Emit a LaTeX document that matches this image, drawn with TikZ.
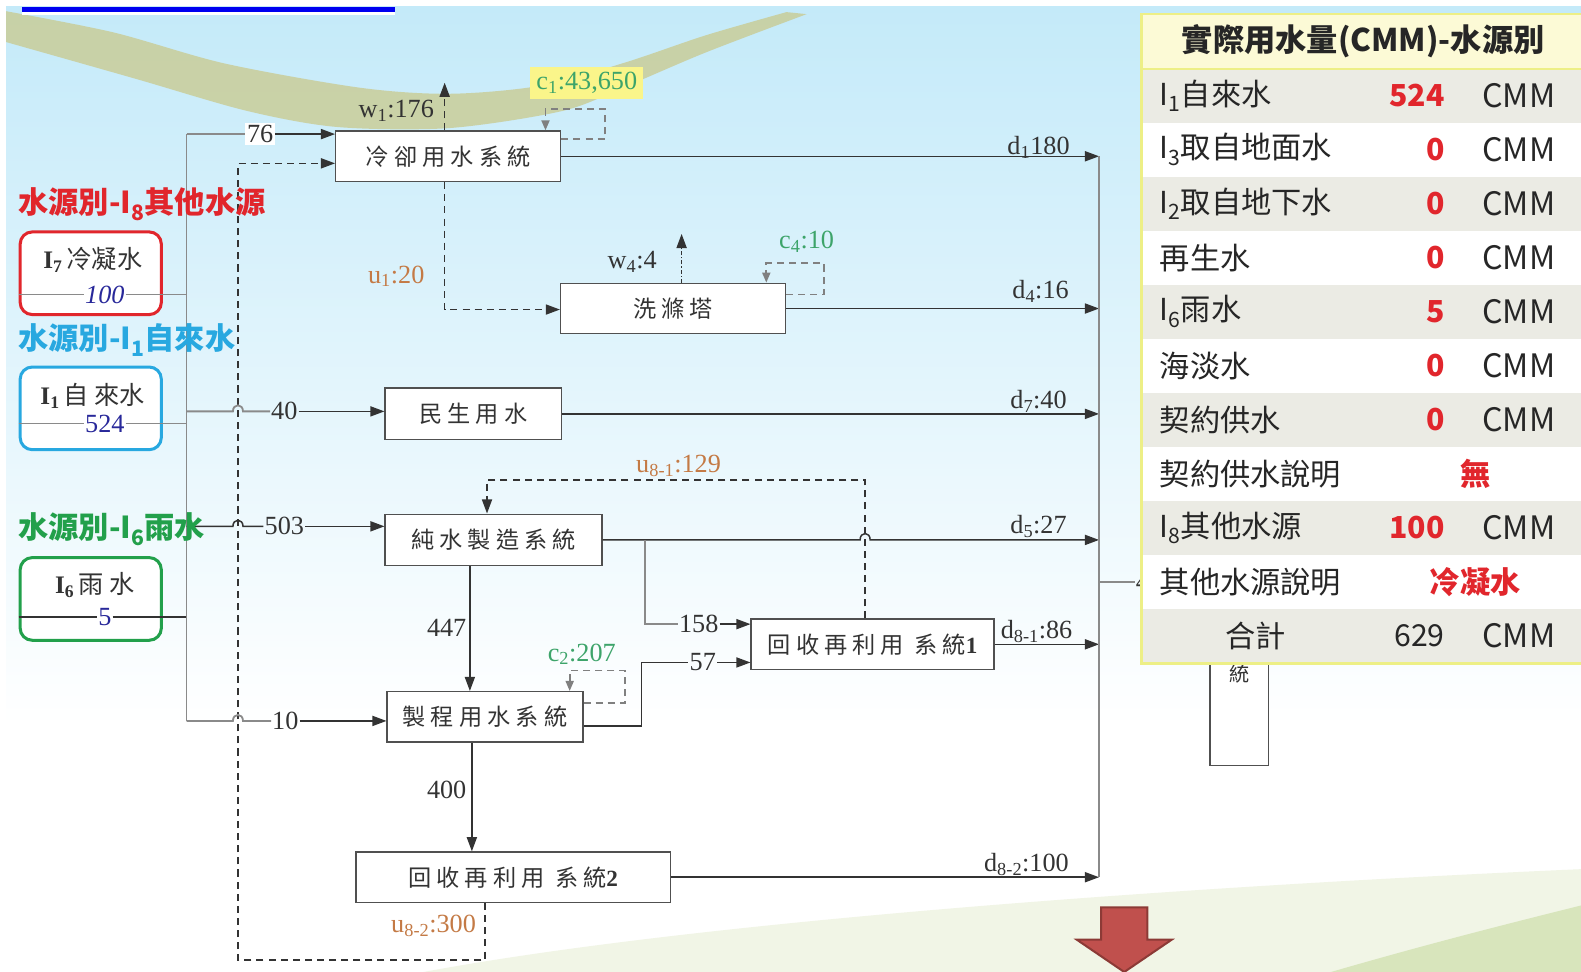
\documentclass[tikz,border=0pt]{standalone}
\usepackage{fontspec}
\setmainfont{Liberation Serif}
\newfontfamily\cjk{Noto Sans CJK TC}
\newfontfamily\cjksp[LetterSpace=22]{Noto Sans CJK TC}
\usetikzlibrary{arrows.meta,calc}
\definecolor{lg}{HTML}{333333}
\definecolor{rg}{HTML}{8A8A8A}
\definecolor{boxc}{HTML}{505050}
\definecolor{redc}{HTML}{E1262C}
\definecolor{bluec}{HTML}{28A8E0}
\definecolor{greenT}{HTML}{22A04B}
\definecolor{numblue}{HTML}{28289A}
\definecolor{orangec}{HTML}{C47A45}
\definecolor{greenc}{HTML}{3DA46A}
\definecolor{hl}{HTML}{FAF58A}
\definecolor{sky}{HTML}{C4EAF9}
\definecolor{swoosh}{HTML}{C9C98C}
\definecolor{pgA}{HTML}{F1F5E6}
\definecolor{pgB}{HTML}{D8E5BC}
\definecolor{hdr}{HTML}{FCFAD6}
\definecolor{rowg}{HTML}{EBEBE4}
\definecolor{ybord}{HTML}{EDEF86}
\definecolor{arrred}{HTML}{C0504D}
\definecolor{arrdark}{HTML}{8C3A36}
\definecolor{blueline}{HTML}{0000F0}
\newcommand{\fs}[1]{\fontsize{#1}{#1}\selectfont}
\newcommand{\sbs}[1]{\textsubscript{#1}}
\tikzset{
  proc/.style={draw=boxc, line width=1.4pt, fill=white, minimum height=50pt, inner sep=0pt, font=\cjksp\fs{23}, text=lg},
  src/.style={line width=3pt, rounded corners=12pt, fill=white, minimum width=140pt, minimum height=82pt},
  flow/.style={draw=lg, line width=1.5pt},
  flowg/.style={draw=rg, line width=1.8pt},
  arr/.style={-{Triangle[length=14pt,width=10pt]}},
  sarr/.style={-{Triangle[length=10pt,width=8pt]}},
  dsh/.style={dash pattern=on 7pt off 5pt},
  lbl/.style={font=\fs{26}, inner sep=1pt, text=lg},
  ttl/.style={anchor=west, inner sep=0pt, font=\cjk\bfseries\fs{30}},
  tl/.style={anchor=west, inner sep=0pt, font=\cjk\fs{30}, text=black!85},
  tu/.style={anchor=west, inner sep=0pt, font=\cjk\fs{32}, text=black!85},
  tn/.style={anchor=east, inner sep=0pt, font=\cjk\bfseries\fs{30}, text=redc},
}
\begin{document}
\begin{tikzpicture}[x=1pt,y=-1pt]
\useasboundingbox (0,0) rectangle (1568,964);
% background
\fill[white] (0,0) rectangle (1568,964);
\shade[top color=sky, bottom color=white] (0,6) rectangle (1568,720);
\fill[swoosh, opacity=0.75] plot[smooth] coordinates {(0,10) (112,32) (223,63) (357,87) (446,93) (536,85) (620,62) (700,35) (780,12)}
  -- plot[smooth] coordinates {(800,14) (700,52) (620,86) (558,110) (446,127) (335,126) (245,110) (134,78) (0,40)} -- cycle;
\fill[pgA] (420,964) .. controls (700,912) and (1200,878) .. (1568,862) -- (1568,964) -- cycle;
\fill[pgB] (1320,964) .. controls (1420,935) and (1500,915) .. (1568,898) -- (1568,964) -- cycle;
\fill[white] (0,0) rectangle (1568,6);
\fill[white] (0,0) rectangle (6,964);
\fill[blueline] (22,7) rectangle (392,12);
\fill[white] (22,12) rectangle (392,15);

% process boxes
\node[proc, minimum width=223pt] (cool) at (444.5,155) {冷卻用水系統};
\node[proc, minimum width=223pt] (wash) at (667.5,306) {洗滌塔};
\node[proc, minimum width=175pt, minimum height=51pt] (civil) at (469.5,410.5) {民生用水};
\node[proc, minimum width=215pt, minimum height=51pt] (pure) at (489.5,535.5) {純水製造系統};
\node[proc, minimum width=241pt] (rec1) at (865.5,639) {回收再利用 系統{\rmfamily\bfseries 1}};
\node[proc, minimum width=194pt] (proc) at (481,711) {製程用水系統};
\node[proc, minimum width=312pt] (rec2) at (509,870) {回收再利用 系統{\rmfamily\bfseries 2}};

% source boxes
\node[src, draw=redc] (s7) at (90,271) {};
\node[src, draw=bluec] (s1) at (90,405) {};
\node[src, draw=greenT] (s6) at (90,594) {};
\node[font=\fs{25}, text=lg] (s7t) at (92,258) {\textbf{I\sbs{7}}\,{\cjk 冷凝水}};
\node[font=\fs{25}, text=lg] (s1t) at (92,393) {\textbf{I\sbs{1}}\,{\cjk 自 來水}};
\node[font=\fs{25}, text=lg] (s6t) at (94,580) {\textbf{I\sbs{6}}\,{\cjk 雨 水}};
\node[font=\itshape\fs{26}, text=numblue, inner sep=1pt] (s7n) at (104,292) {100};
\node[font=\fs{26}, text=numblue, inner sep=1pt] (s1n) at (104,420) {524};
\node[font=\fs{26}, text=numblue, inner sep=1pt] (s6n) at (104,612) {5};

\coordinate (bus) at (185,0);
\coordinate (bt) at (185,133);
\coordinate (bb) at (185,715);
\coordinate (R) at (1090,0);
\draw[flowg] (s7.west |- s7n) -- (s7n);
\draw[flowg] (s7n) -- (s7n -| bus);
\draw[flowg] (s1.west |- s1n) -- (s1n);
\draw[flowg] (s1n) -- (s1n -| bus);
\draw[flow] (s6.west |- s6n) -- (s6n);
\draw[flow] (s6n) -- (s6n -| bus);
\draw[flowg] (bt) -- (bb);

% big dashed return loop u8-2
\draw[flow, dsh, arr] (rec2.south -| 481,0) -- (481,952) -- (236,952) -- (236,162) -- (cool.west |- 0,162);
\node[lbl, text=orangec] (u82) at (430,918) {u\sbs{8-2}:300};

% inputs from bus
\node[lbl, fill=white, inner sep=2pt] (n76) at (258,133) {76};
\draw[flowg] (bt) -- (n76);
\draw[flow, arr] (n76) -- (n76 -| cool.west);

\node[lbl] (n40) at (282,408) {40};
\draw[flowg] (n40 -| bus) -- (231,408) .. controls (231,400) and (241,400) .. (241,408) -- (n40);
\draw[flow, arr] (n40) -- (n40 -| civil.west);

\node[lbl] (n503) at (282,522) {503};
\draw[flow] (n503 -| bus) -- (231,522) .. controls (231,514) and (241,514) .. (241,522) -- (n503);
\draw[flow, arr] (n503) -- (n503 -| pure.west);

\node[lbl] (n10) at (283,715) {10};
\draw[flowg] (bb) -- (231,715) .. controls (231,707) and (241,707) .. (241,715) -- (n10);
\draw[flow, arr] (n10) -- (n10 -| proc.west);

% cooling system
\coordinate (w1t) at (441,82);
\draw[flow, dsh, arr] (cool.north -| 441,0) -- (w1t);
\node[lbl] (w1l) at (393,110) {w\sbs{1}:176};
\draw[flow, dsh, arr] (cool.south -| 441,0) -- (441,307) -- (wash.west |- 0,307);
\node[lbl, text=orangec] (u1l) at (393,274) {u\sbs{1}:20};
\draw[flowg, dsh, sarr, draw=gray] (cool.east |- 0,138) -- (600,138) -- (600,108) -- (541,108) -- (cool.north -| 541,0);
\node[lbl, fill=hl, text=greenc, minimum width=112pt, minimum height=32pt] (c1l) at (582,82) {c\sbs{1}:43,650};
\draw[flow, arr] (cool.east) -- (cool.east -| R);
\node[lbl] (d1l) at (1030,146) {d\sbs{1}180};

% scrubber
\draw[flow, dash pattern=on 4pt off 2pt on 1pt off 2pt, arr] (wash.north -| 676,0) -- (676,232);
\node[lbl] (w4l) at (627,260) {w\sbs{4}:4};
\draw[flowg, dsh, sarr, draw=gray] (wash.east |- 0,292) -- (817,292) -- (817,261) -- (760,261) -- (wash.north -| 760,0);
\node[lbl, text=greenc] (c4l) at (800,240) {c\sbs{4}:10};
\draw[flow, arr] (wash.east) -- (wash.east -| R);
\node[lbl] (d4l) at (1032,289) {d\sbs{4}:16};

% civil
\draw[flow, arr] (civil.east) -- (civil.east -| R);
\node[lbl] (d7l) at (1030,398) {d\sbs{7}:40};

% pure water
\draw[flow, arr] (pure.east) -- (853,535.5) .. controls (853,527) and (863,527) .. (863,535.5) -- (pure.east -| R);
\node[lbl] (d5l) at (1030,522) {d\sbs{5}:27};
\draw[flow, arr] (pure.south -| 466,0) -- (proc.north -| 466,0);
\node[lbl] (n447) at (443,623) {447};
\node[lbl] (n158) at (693,619) {158};
\draw[flowg] (640,535.5) -- (640,619) -- (n158);
\draw[flow, arr] (n158) -- (n158 -| rec1.west);
\draw[flow, dsh, arr] (rec1.north -| 858,0) -- (858,476) -- (483,476) -- (pure.north -| 483,0);
\node[lbl, text=orangec] (u81) at (673,462) {u\sbs{8-1}:129};

% process water
\draw[flowg, dsh, sarr, draw=gray] (proc.east |- 0,697) -- (620,697) -- (620,665) -- (565,665) -- (proc.north -| 565,0);
\node[lbl, text=greenc] (c2l) at (577,649) {c\sbs{2}:207};
\node[lbl] (n57) at (697,657) {57};
\draw[flow] (proc.east |- 0,720) -- (636,720) -- (636,657) -- (n57);
\draw[flow, arr] (n57) -- (n57 -| rec1.west);
\draw[flow, arr] (proc.south -| 468,0) -- (rec2.north -| 468,0);
\node[lbl] (n400) at (443,783) {400};

% recycle outputs
\draw[flow, arr] (rec1.east) -- (rec1.east -| R);
\node[lbl] (d81) at (1028,626) {d\sbs{8-1}:86};
\draw[flow, arr] (rec2.east) -- (rec2.east -| R);
\node[lbl] (d82) at (1018,857) {d\sbs{8-2}:100};

% right collector
\draw[flowg] (cool.east -| R) -- (rec2.east -| R);
\node[lbl] (four) at (1133,577) {4};
\draw[flowg] (1090,577) -- (four);

% tall box behind table
\node[draw=boxc, line width=1.4pt, fill=white, minimum width=58pt, minimum height=200pt, anchor=south] (tall) at (1229,760) {};
\node[font=\cjk\fs{20}, text=lg] (tallt) at (1229,668) {統};

% source titles
\node[ttl, text=redc] (t8) at (18,203) {水源別-I\sbs{8}其他水源};
\node[ttl, text=bluec] (t1) at (18,337) {水源別-I\sbs{1}自來水};
\node[ttl, text=greenT] (t6) at (18,525) {水源別-I\sbs{6}雨水};

% red arrow
\draw[fill=arrred, draw=arrdark, line width=2pt, line join=miter] (1092,900) -- (1138,900) -- (1138,932) -- (1162,932) -- (1115,964) -- (1068,932) -- (1092,932) -- cycle;

% table
\fill[hdr] (1132,14) rectangle (1568,68);
\foreach \i in {0,2,4,6,8,10} \fill[rowg] (1134,{68+\i*53.6}) rectangle (1568,{68+(\i+1)*53.6});
\foreach \i in {1,3,5,7,9} \fill[white] (1134,{68+\i*53.6}) rectangle (1568,{68+(\i+1)*53.6});
\draw[ybord, line width=2pt] (1132,68) -- (1568,68);
\draw[ybord, line width=2.5pt] (1568,14) -- (1132,14) -- (1132,658) -- (1568,658);
\node[font=\cjk\bfseries\fs{31}, text=black!85] (hd) at (1352,41) {實際用水量(CMM)-水源別};
\foreach \lab/\val/\i in {{I\sbs{1}自來水}/524/0, {I\sbs{3}取自地面水}/0/1, {I\sbs{2}取自地下水}/0/2, {再生水}/0/3, {I\sbs{6}雨水}/5/4, {海淡水}/0/5, {契約供水}/0/6, {I\sbs{8}其他水源}/100/8} {
  \node[tl] (ra\i) at (1150,{68+(\i+0.5)*53.6}) {\lab};
  \node[tn] (rb\i) at (1433,{68+(\i+0.5)*53.6}) {\val};
  \node[tu] (rc\i) at (1470,{68+(\i+0.5)*53.6}) {CMM};
}
\node[tl] (ra7) at (1150,470) {契約供水說明};
\node[font=\cjk\bfseries\fs{30}, text=redc, inner sep=0pt] (rb7) at (1463,470) {無};
\node[tl] (ra9) at (1150,577.2) {其他水源說明};
\node[font=\cjk\bfseries\fs{30}, text=redc, inner sep=0pt] (rb9) at (1463,577.2) {冷凝水};
\node[font=\cjk\fs{30}, text=black!85, inner sep=0pt] (ra10) at (1245,630.8) {合計};
\node[tl, anchor=east] (rb10) at (1433,630.8) {629};
\node[tu] (rc10) at (1470,630.8) {CMM};
\end{tikzpicture}
\end{document}
